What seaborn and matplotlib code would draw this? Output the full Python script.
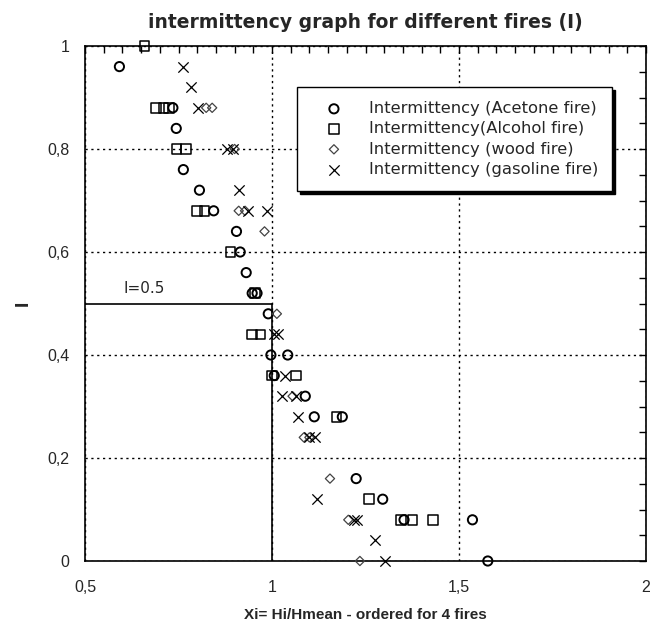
import matplotlib
matplotlib.use("Agg")
import matplotlib.pyplot as plt
import seaborn as sns
from matplotlib.ticker import FixedLocator, FixedFormatter, MultipleLocator

# Xi = Hi/Hmean (ordered) against intermittency I, one list pair per fire
acetone_x = [0.592, 0.735, 0.744, 0.763, 0.806, 0.844, 0.905, 0.915, 0.931, 0.947,
             0.960, 0.990, 0.997, 1.042, 1.006, 1.089, 1.113, 1.188, 1.225, 1.296,
             1.353, 1.536, 1.577]
acetone_i = [0.96, 0.88, 0.84, 0.76, 0.72, 0.68, 0.64, 0.60, 0.56, 0.52,
             0.52, 0.48, 0.40, 0.40, 0.36, 0.32, 0.28, 0.28, 0.16, 0.12,
             0.08, 0.08, 0.00]

alcohol_x = [0.659, 0.690, 0.710, 0.725, 0.745, 0.770, 0.800, 0.820, 0.889, 0.955,
             0.947, 0.969, 1.000, 1.064, 1.172, 1.260, 1.345, 1.376, 1.431]
alcohol_i = [1.00, 0.88, 0.88, 0.88, 0.80, 0.80, 0.68, 0.68, 0.60, 0.52,
             0.44, 0.44, 0.36, 0.36, 0.28, 0.12, 0.08, 0.08, 0.08]

wood_x = [0.824, 0.840, 0.900, 0.911, 0.928, 0.980, 1.013, 1.055, 1.085, 1.100,
          1.155, 1.204, 1.235]
wood_i = [0.88, 0.88, 0.80, 0.68, 0.68, 0.64, 0.48, 0.32, 0.24, 0.24,
          0.16, 0.08, 0.00]

gasoline_x = [0.762, 0.784, 0.802, 0.880, 0.895, 0.911, 0.935, 0.987, 1.005, 1.015,
              1.036, 1.027, 1.065, 1.070, 1.100, 1.114, 1.121, 1.218, 1.226, 1.275,
              1.302]
gasoline_i = [0.96, 0.92, 0.88, 0.80, 0.80, 0.72, 0.68, 0.68, 0.44, 0.44,
              0.36, 0.32, 0.32, 0.28, 0.24, 0.24, 0.12, 0.08, 0.08, 0.04,
              0.00]

series_labels = ["Intermittency (Acetone fire)", "Intermittency(Alcohol fire)",
                 "Intermittency (wood fire)", "Intermittency (gasoline fire)"]

x_ticks = [0.5, 1.0, 1.5, 2.0]
x_tick_labels = ["0,5", "1", "1,5", "2"]
y_ticks = [0.0, 0.2, 0.4, 0.6, 0.8, 1.0]
y_tick_labels = ["0", "0,2", "0,4", "0,6", "0,8", "1"]

i_threshold = 0.5
x_reference = 1.0

sns.set_theme(style="white")
plt.rcParams["font.family"] = ["Liberation Sans", "DejaVu Sans"]

fig = plt.figure(figsize=(6.65, 6.25), dpi=100)
ax = fig.add_axes([85 / 665, 1 - 561 / 625, (646 - 85) / 665, (561 - 46) / 625])

common = dict(ax=ax, zorder=4, clip_on=False)
sns.scatterplot(x=acetone_x, y=acetone_i, marker="o", s=44,
                facecolor="none", edgecolor="black", linewidth=1.4,
                label=series_labels[0], **common)
sns.scatterplot(x=alcohol_x, y=alcohol_i, marker="s", s=48,
                facecolor="none", edgecolor="black", linewidth=1.1,
                label=series_labels[1], **common)
sns.scatterplot(x=wood_x, y=wood_i, marker="D", s=22,
                facecolor="none", edgecolor="#444444", linewidth=0.9,
                label=series_labels[2], **common)
sns.scatterplot(x=gasoline_x, y=gasoline_i, marker="x", s=55,
                color="black", linewidth=0.9,
                label=series_labels[3], **common)

# reference lines at I = 0.5 and Xi = 1
ax.plot([x_ticks[0], x_reference], [i_threshold, i_threshold], color="black", lw=1.2, zorder=3)
ax.plot([x_reference, x_reference], [0, i_threshold], color="black", lw=1.2, zorder=3)
ax.text(0.602, 0.53, "I=0.5", fontsize=11, family="DejaVu Sans", ha="left", va="center")

ax.set_xlim(0.5, 2.0)
ax.set_ylim(0.0, 1.0)
ax.xaxis.set_major_locator(FixedLocator(x_ticks))
ax.xaxis.set_major_formatter(FixedFormatter(x_tick_labels))
ax.yaxis.set_major_locator(FixedLocator(y_ticks))
ax.yaxis.set_major_formatter(FixedFormatter(y_tick_labels))
ax.xaxis.set_minor_locator(MultipleLocator(0.05))
ax.yaxis.set_minor_locator(MultipleLocator(0.05))
ax.tick_params(which="both", direction="in", top=True, right=True,
               length=5, width=1, color="black", labelsize=11.5)
ax.tick_params(axis="x", which="major", pad=14)
ax.tick_params(axis="y", which="major", pad=11)

ax.grid(True, which="major", color="black", linestyle=(0, (1.6, 2.6)), linewidth=1.0)
for side in ax.spines.values():
    side.set_color("black")
    side.set_linewidth(1.2)

ax.set_title("intermittency graph for different fires (I)", fontsize=13.5,
             family="DejaVu Sans", fontweight="bold", pad=13)
ax.set_xlabel("Xi= Hi/Hmean - ordered for 4 fires", fontsize=11, fontweight="bold",
              labelpad=9)
ax.set_ylabel("I", fontsize=14, fontweight="bold", labelpad=11)

leg = ax.legend(loc="upper left", bbox_to_anchor=(0.378, 0.920), borderaxespad=0,
                frameon=True, fancybox=False, framealpha=1, edgecolor="black",
                shadow={"facecolor": "black", "edgecolor": "black", "alpha": 1},
                borderpad=0.85, handlelength=2.8, handletextpad=0.72,
                labelspacing=0.32, prop={"family": "DejaVu Sans", "size": 11.8})
leg.get_frame().set_linewidth(1.0)
leg.set_zorder(6)

fig.savefig("out.png", dpi=100)
